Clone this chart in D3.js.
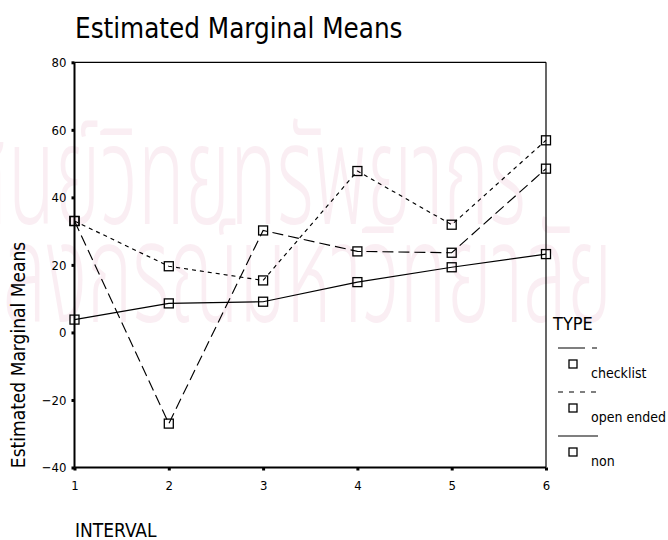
<!DOCTYPE html>
<html>
<head>
<meta charset="utf-8">
<script src="https://cdn.jsdelivr.net/npm/d3@7"></script>
<style>
  html, body { margin: 0; padding: 0; background: #fff; }
  svg { display: block; }
  text { font-family: "DejaVu Sans Condensed", "DejaVu Sans", sans-serif; fill: #000; }
  .stamp text { fill: #d9789f; font-family: "Noto Sans Thai", "Noto Sans", sans-serif; font-size: 140px; font-weight: 300; }
</style>
</head>
<body>
<svg id="chart" width="668" height="540"></svg>
<script>
// Estimated marginal means by interval for each questionnaire type
const intervals = [1, 2, 3, 4, 5, 6];
const checklist = [33.0, -27.0, 30.2, 24.0, 23.6, 48.5];
const openEnded = [33.0, 19.6, 15.4, 47.8, 31.9, 56.9];
const non = [3.8, 8.6, 9.1, 14.9, 19.3, 23.2];
const yTicks = [-40, -20, 0, 20, 40, 60, 80];
const seriesNames = ["checklist", "open ended", "non"];

const svg = d3.select("#chart");

// faint library stamp behind the chart
const stamp = svg.append("g").attr("class", "stamp").attr("opacity", 0.12);
stamp.append("text")
  .attr("transform", "translate(-40,224) scale(0.55,1)")
  .text("ศูนย์วิทยทรัพยากร");
stamp.append("text")
  .attr("transform", "translate(612,322) scale(0.55,1)")
  .attr("text-anchor", "end")
  .text("จุฬาลงกรณ์มหาวิทยาลัย");

const plotLeft = 74.5, plotRight = 546, plotTop = 62.3, plotBottom = 467.5;

const x = d3.scaleLinear().domain([1, 6]).range([plotLeft, plotRight]);
const y = d3.scaleLinear().domain([-40, 80]).range([plotBottom, plotTop]);

// title
svg.append("text").attr("x", 75).attr("y", 38)
  .style("font-size", "27.5px").text("Estimated Marginal Means");

// frame: thin top/right, heavier left/bottom
svg.append("line").attr("x1", plotLeft).attr("x2", plotRight).attr("y1", plotTop).attr("y2", plotTop)
  .attr("stroke", "#000").attr("stroke-width", 1.2);
svg.append("line").attr("x1", plotRight).attr("x2", plotRight).attr("y1", plotTop).attr("y2", plotBottom)
  .attr("stroke", "#000").attr("stroke-width", 1.2);

const yAxis = svg.append("g").attr("transform", `translate(${plotLeft},0)`)
  .call(d3.axisLeft(y).tickValues(yTicks).tickSize(3).tickPadding(5).tickFormat(d3.format("d")));
const xAxis = svg.append("g").attr("transform", `translate(0,${plotBottom})`)
  .call(d3.axisBottom(x).tickValues(intervals).tickSize(3).tickPadding(10).tickFormat(d3.format("d")));

[yAxis, xAxis].forEach(g => {
  g.select(".domain").attr("stroke", "#000").attr("stroke-width", 2);
  g.selectAll(".tick line").attr("stroke", "#000").attr("stroke-width", 3);
  g.selectAll(".tick text").style("font-size", "13px")
    .style("font-family", "'DejaVu Sans Condensed', 'DejaVu Sans', sans-serif").attr("fill", "#000");
});
yAxis.select(".domain").attr("d", `M0,${plotTop}V${plotBottom}`);
xAxis.select(".domain").attr("d", `M${plotLeft},0H${plotRight}`);

// axis titles
svg.append("text")
  .attr("transform", "translate(25,355) rotate(-90)")
  .attr("text-anchor", "middle").style("font-size", "19px")
  .text("Estimated Marginal Means");
svg.append("text").attr("x", 75).attr("y", 537)
  .style("font-size", "19px").text("INTERVAL");

const styles = {
  "checklist": { values: checklist, dash: "11,5" },
  "open ended": { values: openEnded, dash: "4,4" },
  "non": { values: non, dash: null }
};

const line = d3.line().x((d, i) => x(intervals[i])).y(d => y(d));

seriesNames.forEach(name => {
  const s = styles[name];
  svg.append("path").datum(s.values)
    .attr("d", line).attr("fill", "none").attr("stroke", "#000")
    .attr("stroke-width", 1.15)
    .attr("stroke-dasharray", s.dash);
  svg.selectAll(null).data(s.values).enter().append("rect")
    .attr("x", (d, i) => x(intervals[i]) - 4.5)
    .attr("y", d => y(d) - 4.5)
    .attr("width", 9).attr("height", 9)
    .attr("fill", "none").attr("stroke", "#000").attr("stroke-width", 1.3);
});

// legend
const lg = svg.append("g").attr("transform", "translate(553,0)");
lg.append("text").attr("x", 0).attr("y", 330).style("font-size", "18px").text("TYPE");
const legendDash = { "checklist": "27,7,5,60", "open ended": "5,6", "non": null };
seriesNames.forEach((name, i) => {
  const base = 348 + i * 44;
  lg.append("line").attr("x1", 5).attr("x2", 45).attr("y1", base).attr("y2", base)
    .attr("stroke", "#000").attr("stroke-width", 1.2)
    .attr("stroke-dasharray", legendDash[name]);
  lg.append("rect").attr("x", 16).attr("y", base + 12).attr("width", 8).attr("height", 8)
    .attr("fill", "none").attr("stroke", "#000").attr("stroke-width", 1.3);
  lg.append("text").attr("x", 38).attr("y", base + 30).style("font-size", "14px").text(name);
});
</script>
</body>
</html>
